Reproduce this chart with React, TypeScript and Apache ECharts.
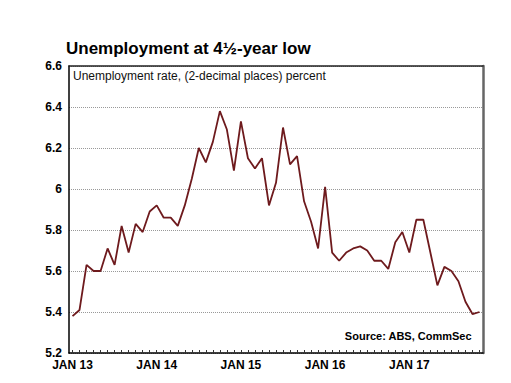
import React, { useEffect, useRef } from "react";
import * as echarts from "echarts";

const months = ["JAN", "FEB", "MAR", "APR", "MAY", "JUN", "JUL", "AUG", "SEP", "OCT", "NOV", "DEC"];
const years = ["13", "14", "15", "16", "17"];
const categories: string[] = [];
years.forEach((y) => months.forEach((m) => categories.push(`${m} ${y}`)));
categories.splice(59);

const unemployment = [
  5.38, 5.41, 5.63, 5.6, 5.6, 5.71, 5.63, 5.82, 5.69, 5.83, 5.79, 5.89,
  5.92, 5.86, 5.86, 5.82, 5.92, 6.05, 6.2, 6.13, 6.23, 6.38, 6.29, 6.09,
  6.33, 6.15, 6.1, 6.15, 5.92, 6.03, 6.3, 6.12, 6.16, 5.94, 5.84, 5.71,
  6.01, 5.69, 5.65, 5.69, 5.71, 5.72, 5.7, 5.65, 5.65, 5.61, 5.74, 5.79,
  5.69, 5.85, 5.85, 5.69, 5.53, 5.62, 5.6, 5.55, 5.45, 5.39, 5.4,
];

const titleText = "Unemployment at 4½-year low";
const subtitleText = "Unemployment rate, (2-decimal places) percent";
const sourceText = "Source: ABS, CommSec";

export default function App() {
  const ref = useRef<HTMLDivElement>(null);
  useEffect(() => {
    if (!ref.current) return;
    const chart = echarts.init(ref.current, undefined, { renderer: "svg" });
    const font = "Liberation Sans, Arial, sans-serif";
    chart.setOption({
      animation: false,
      backgroundColor: "#fff",
      title: [
        {
          text: titleText,
          left: 66,
          top: 40,
          padding: 0,
          textStyle: { fontFamily: font, fontSize: 17, fontWeight: "bold", color: "#000" },
        },
        {
          text: subtitleText,
          left: 73,
          top: 70,
          padding: 0,
          textStyle: { fontFamily: font, fontSize: 12, fontWeight: "normal", color: "#111" },
        },
        {
          text: sourceText,
          right: 39,
          top: 330,
          padding: 0,
          textStyle: { fontFamily: font, fontSize: 11, fontWeight: "bold", color: "#000" },
        },
      ],
      grid: { left: 69, right: 28, top: 66, bottom: 30, containLabel: false },
      xAxis: [
        {
          type: "category",
          data: categories,
          boundaryGap: true,
          axisLine: { show: true, lineStyle: { color: "#000", width: 1.5 } },
          axisTick: { show: true, inside: true, length: 3, interval: 0, alignWithLabel: true, lineStyle: { color: "#333", width: 1 } },
          axisLabel: {
            interval: (i: number) => i % 12 === 0,
            margin: 6,
            lineHeight: 12,
            fontFamily: font,
            fontSize: 12,
            fontWeight: "bold",
            color: "#000",
          },
          splitLine: { show: false },
        },
        {
          type: "category",
          position: "top",
          data: categories,
          axisLine: { show: true, lineStyle: { color: "#222", width: 1.5 } },
          axisTick: { show: false },
          axisLabel: { show: false },
        },
      ],
      yAxis: [
        {
          type: "value",
          min: 5.2,
          max: 6.6,
          interval: 0.2,
          axisLine: { show: true, lineStyle: { color: "#000", width: 1.5 } },
          axisTick: { show: false },
          axisLabel: {
            formatter: (v: number) => String(Number(v.toFixed(1))),
            margin: 7,
            lineHeight: 12,
            fontFamily: font,
            fontSize: 12,
            fontWeight: "bold",
            color: "#000",
          },
          splitLine: { show: true, lineStyle: { color: "#999", type: "dotted", width: 1 } },
        },
        {
          type: "value",
          position: "right",
          min: 5.2,
          max: 6.6,
          interval: 0.2,
          axisLine: { show: true, lineStyle: { color: "#666", width: 2.5 } },
          axisTick: { show: false },
          axisLabel: { show: false },
          splitLine: { show: false },
        },
      ],
      series: [
        {
          type: "line",
          data: unemployment,
          symbol: "none",
          lineStyle: { color: "#6e1a1d", width: 1.8 },
          xAxisIndex: 0,
          yAxisIndex: 0,
        },
      ],
    });
    return () => chart.dispose();
  }, []);
  return <div ref={ref} style={{ position: "absolute", left: 0, top: 0, width: 511, height: 383 }} />;
}
